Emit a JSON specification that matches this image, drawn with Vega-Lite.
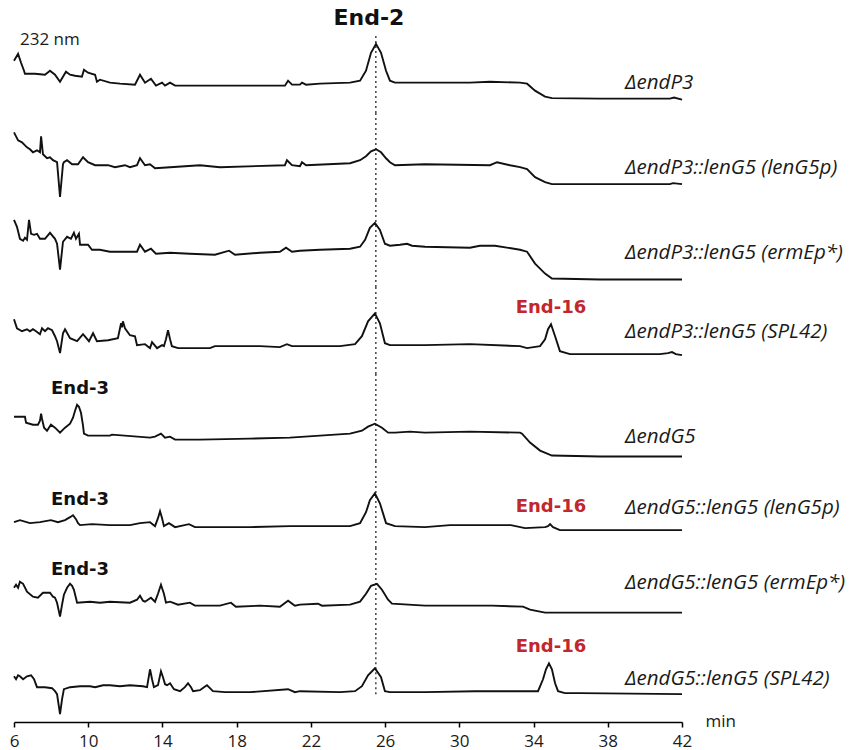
{
  "$schema": "https://vega.github.io/schema/vega-lite/v6.json",
  "padding": {"left": 9, "top": 7, "right": 5, "bottom": 2},
  "background": "white",
  "bounds": "flush",
  "config": {"view": {"stroke": null}},
  "data": {"values": [
    {"s":1,"t":6.00,"v":52.5},{"s":1,"t":6.22,"v":59.5},{"s":1,"t":6.38,"v":50.5},{"s":1,"t":6.54,"v":42.5},{"s":1,"t":6.59,"v":39.5},{"s":1,"t":7.13,"v":39.5},{"s":1,"t":7.67,"v":38.5},{"s":1,"t":7.94,"v":42.5},{"s":1,"t":8.21,"v":38.5},{"s":1,"t":8.48,"v":31.5},{"s":1,"t":8.80,"v":41.5},{"s":1,"t":9.02,"v":38.5},{"s":1,"t":9.29,"v":37.5},{"s":1,"t":9.66,"v":36.5},{"s":1,"t":9.77,"v":43.5},{"s":1,"t":9.99,"v":40.5},{"s":1,"t":10.37,"v":38.5},{"s":1,"t":10.47,"v":31.5},{"s":1,"t":10.63,"v":33.5},{"s":1,"t":11.17,"v":30.5},{"s":1,"t":11.71,"v":29.5},{"s":1,"t":12.52,"v":28.5},{"s":1,"t":12.79,"v":38.5},{"s":1,"t":13.06,"v":30.5},{"s":1,"t":13.38,"v":34.5},{"s":1,"t":13.65,"v":27.5},{"s":1,"t":13.98,"v":30.5},{"s":1,"t":14.14,"v":27.5},{"s":1,"t":14.41,"v":30.5},{"s":1,"t":14.68,"v":27.5},{"s":1,"t":16.02,"v":27.5},{"s":1,"t":18.72,"v":27.5},{"s":1,"t":20.60,"v":27.5},{"s":1,"t":20.77,"v":32.5},{"s":1,"t":20.98,"v":28.5},{"s":1,"t":21.41,"v":28.5},{"s":1,"t":21.52,"v":30.5},{"s":1,"t":21.74,"v":28.5},{"s":1,"t":22.49,"v":29.5},{"s":1,"t":24.11,"v":30.5},{"s":1,"t":24.65,"v":32.5},{"s":1,"t":24.97,"v":42.5},{"s":1,"t":25.24,"v":60.5},{"s":1,"t":25.51,"v":69.5},{"s":1,"t":25.78,"v":60.5},{"s":1,"t":26.05,"v":42.5},{"s":1,"t":26.26,"v":32.5},{"s":1,"t":26.53,"v":30.5},{"s":1,"t":28.15,"v":30.5},{"s":1,"t":30.57,"v":30.5},{"s":1,"t":31.65,"v":31.5},{"s":1,"t":33.27,"v":30.5},{"s":1,"t":33.65,"v":29.5},{"s":1,"t":34.08,"v":22.5},{"s":1,"t":34.62,"v":16.5},{"s":1,"t":34.99,"v":15},{"s":1,"t":37.58,"v":14.5},{"s":1,"t":41.35,"v":14.5},{"s":1,"t":41.57,"v":15.5},{"s":1,"t":42.00,"v":13.5},

    {"s":2,"t":6.00,"v":68},{"s":2,"t":6.22,"v":60},{"s":2,"t":6.43,"v":58},{"s":2,"t":6.70,"v":53},{"s":2,"t":6.86,"v":51},{"s":2,"t":7.02,"v":48},{"s":2,"t":7.24,"v":50},{"s":2,"t":7.40,"v":48},{"s":2,"t":7.46,"v":64},{"s":2,"t":7.56,"v":46},{"s":2,"t":7.78,"v":42},{"s":2,"t":7.94,"v":43},{"s":2,"t":8.10,"v":40},{"s":2,"t":8.32,"v":38},{"s":2,"t":8.48,"v":3},{"s":2,"t":8.64,"v":36},{"s":2,"t":8.69,"v":38},{"s":2,"t":8.86,"v":40},{"s":2,"t":9.13,"v":36},{"s":2,"t":9.45,"v":36},{"s":2,"t":9.72,"v":43},{"s":2,"t":9.99,"v":38},{"s":2,"t":10.37,"v":35},{"s":2,"t":11.07,"v":35},{"s":2,"t":11.44,"v":33},{"s":2,"t":11.98,"v":35},{"s":2,"t":12.25,"v":33},{"s":2,"t":12.63,"v":35},{"s":2,"t":12.79,"v":42},{"s":2,"t":13.06,"v":35},{"s":2,"t":13.33,"v":36},{"s":2,"t":13.60,"v":32},{"s":2,"t":14.41,"v":33},{"s":2,"t":16.02,"v":35},{"s":2,"t":17.10,"v":33},{"s":2,"t":20.60,"v":35},{"s":2,"t":20.71,"v":40},{"s":2,"t":20.98,"v":35},{"s":2,"t":21.41,"v":34},{"s":2,"t":21.52,"v":38},{"s":2,"t":21.74,"v":35},{"s":2,"t":24.11,"v":37},{"s":2,"t":24.65,"v":40},{"s":2,"t":24.97,"v":44},{"s":2,"t":25.24,"v":49},{"s":2,"t":25.51,"v":51},{"s":2,"t":25.78,"v":48},{"s":2,"t":26.05,"v":42},{"s":2,"t":26.26,"v":38},{"s":2,"t":26.53,"v":35},{"s":2,"t":28.15,"v":36},{"s":2,"t":31.65,"v":35},{"s":2,"t":32.03,"v":38},{"s":2,"t":32.73,"v":35},{"s":2,"t":33.27,"v":33},{"s":2,"t":33.65,"v":31},{"s":2,"t":34.08,"v":23},{"s":2,"t":34.62,"v":18},{"s":2,"t":34.99,"v":16},{"s":2,"t":41.35,"v":16},{"s":2,"t":41.51,"v":17},{"s":2,"t":42.00,"v":16},

    {"s":3,"t":6.00,"v":67.5},{"s":3,"t":6.16,"v":60.5},{"s":3,"t":6.32,"v":48.5},{"s":3,"t":6.49,"v":46.5},{"s":3,"t":6.59,"v":49.5},{"s":3,"t":6.70,"v":47.5},{"s":3,"t":6.81,"v":67.5},{"s":3,"t":6.92,"v":53.5},{"s":3,"t":7.08,"v":52.5},{"s":3,"t":7.24,"v":53.5},{"s":3,"t":7.40,"v":48.5},{"s":3,"t":7.67,"v":48.5},{"s":3,"t":7.94,"v":54.5},{"s":3,"t":8.21,"v":48.5},{"s":3,"t":8.32,"v":43.5},{"s":3,"t":8.48,"v":17.5},{"s":3,"t":8.64,"v":45.5},{"s":3,"t":8.86,"v":50.5},{"s":3,"t":9.07,"v":48.5},{"s":3,"t":9.23,"v":54.5},{"s":3,"t":9.34,"v":48.5},{"s":3,"t":9.50,"v":53.5},{"s":3,"t":9.56,"v":42.5},{"s":3,"t":9.99,"v":42.5},{"s":3,"t":10.20,"v":37.5},{"s":3,"t":10.63,"v":37.5},{"s":3,"t":11.17,"v":35.5},{"s":3,"t":12.25,"v":35.5},{"s":3,"t":12.63,"v":35.5},{"s":3,"t":12.79,"v":42.5},{"s":3,"t":13.06,"v":35.5},{"s":3,"t":13.38,"v":38.5},{"s":3,"t":13.65,"v":33.5},{"s":3,"t":14.41,"v":34.5},{"s":3,"t":15.48,"v":33.5},{"s":3,"t":16.83,"v":32.5},{"s":3,"t":17.59,"v":36.5},{"s":3,"t":17.91,"v":32.5},{"s":3,"t":19.26,"v":34.5},{"s":3,"t":20.33,"v":35.5},{"s":3,"t":20.66,"v":39.5},{"s":3,"t":20.98,"v":35.5},{"s":3,"t":21.41,"v":36.5},{"s":3,"t":22.49,"v":37.5},{"s":3,"t":24.11,"v":38.5},{"s":3,"t":24.65,"v":40.5},{"s":3,"t":24.92,"v":47.5},{"s":3,"t":25.18,"v":59.5},{"s":3,"t":25.45,"v":64.5},{"s":3,"t":25.72,"v":57.5},{"s":3,"t":25.99,"v":43.5},{"s":3,"t":26.26,"v":41.5},{"s":3,"t":26.80,"v":42.5},{"s":3,"t":27.18,"v":43.5},{"s":3,"t":27.45,"v":41.5},{"s":3,"t":28.15,"v":40.5},{"s":3,"t":30.57,"v":39.5},{"s":3,"t":31.11,"v":41.5},{"s":3,"t":31.92,"v":41.5},{"s":3,"t":33.27,"v":37.5},{"s":3,"t":33.65,"v":35.5},{"s":3,"t":34.08,"v":23.5},{"s":3,"t":34.62,"v":13.5},{"s":3,"t":34.99,"v":8.5},{"s":3,"t":37.58,"v":7.5},{"s":3,"t":42.00,"v":7.5},

    {"s":4,"t":6.00,"v":55},{"s":4,"t":6.16,"v":46},{"s":4,"t":6.43,"v":43},{"s":4,"t":6.70,"v":45},{"s":4,"t":6.86,"v":43},{"s":4,"t":7.02,"v":45},{"s":4,"t":7.19,"v":43},{"s":4,"t":7.40,"v":40},{"s":4,"t":7.51,"v":46},{"s":4,"t":7.67,"v":43},{"s":4,"t":7.83,"v":46},{"s":4,"t":8.05,"v":44},{"s":4,"t":8.21,"v":38},{"s":4,"t":8.32,"v":33},{"s":4,"t":8.48,"v":21},{"s":4,"t":8.64,"v":41},{"s":4,"t":8.75,"v":45},{"s":4,"t":9.02,"v":36},{"s":4,"t":9.40,"v":33},{"s":4,"t":9.72,"v":40},{"s":4,"t":10.04,"v":33},{"s":4,"t":10.26,"v":41},{"s":4,"t":10.47,"v":33},{"s":4,"t":11.07,"v":34},{"s":4,"t":11.60,"v":36},{"s":4,"t":11.77,"v":51},{"s":4,"t":11.82,"v":47},{"s":4,"t":11.87,"v":53},{"s":4,"t":11.98,"v":46},{"s":4,"t":12.25,"v":39},{"s":4,"t":12.52,"v":38},{"s":4,"t":12.63,"v":29},{"s":4,"t":13.06,"v":30},{"s":4,"t":13.33,"v":26},{"s":4,"t":13.44,"v":32},{"s":4,"t":13.71,"v":26},{"s":4,"t":13.98,"v":29},{"s":4,"t":14.08,"v":28},{"s":4,"t":14.19,"v":35},{"s":4,"t":14.30,"v":44},{"s":4,"t":14.41,"v":35},{"s":4,"t":14.51,"v":28},{"s":4,"t":14.84,"v":26},{"s":4,"t":15.48,"v":26},{"s":4,"t":16.56,"v":26},{"s":4,"t":16.83,"v":28},{"s":4,"t":19.26,"v":28},{"s":4,"t":20.33,"v":27},{"s":4,"t":20.71,"v":30},{"s":4,"t":20.98,"v":28},{"s":4,"t":21.41,"v":28},{"s":4,"t":23.57,"v":28},{"s":4,"t":24.38,"v":30},{"s":4,"t":24.75,"v":38},{"s":4,"t":25.08,"v":53},{"s":4,"t":25.45,"v":61},{"s":4,"t":25.72,"v":51},{"s":4,"t":25.99,"v":31},{"s":4,"t":26.26,"v":29},{"s":4,"t":28.15,"v":29},{"s":4,"t":30.57,"v":30},{"s":4,"t":33.27,"v":28},{"s":4,"t":33.65,"v":26},{"s":4,"t":34.35,"v":28},{"s":4,"t":34.62,"v":35},{"s":4,"t":34.78,"v":45},{"s":4,"t":34.94,"v":50},{"s":4,"t":35.16,"v":38},{"s":4,"t":35.42,"v":23},{"s":4,"t":35.96,"v":20},{"s":4,"t":38.66,"v":20},{"s":4,"t":40.81,"v":20},{"s":4,"t":41.24,"v":21},{"s":4,"t":41.46,"v":22},{"s":4,"t":41.67,"v":20},{"s":4,"t":42.00,"v":19},

    {"s":5,"t":6.00,"v":44.5},{"s":5,"t":6.59,"v":44.5},{"s":5,"t":6.65,"v":38.5},{"s":5,"t":7.02,"v":36.5},{"s":5,"t":7.29,"v":36.5},{"s":5,"t":7.40,"v":40.5},{"s":5,"t":7.46,"v":47.5},{"s":5,"t":7.51,"v":42.5},{"s":5,"t":7.62,"v":33.5},{"s":5,"t":7.78,"v":30.5},{"s":5,"t":7.99,"v":36.5},{"s":5,"t":8.21,"v":33.5},{"s":5,"t":8.48,"v":28.5},{"s":5,"t":8.75,"v":33.5},{"s":5,"t":9.02,"v":37.5},{"s":5,"t":9.18,"v":43.5},{"s":5,"t":9.29,"v":50.5},{"s":5,"t":9.40,"v":56.5},{"s":5,"t":9.50,"v":54.5},{"s":5,"t":9.61,"v":48.5},{"s":5,"t":9.72,"v":35.5},{"s":5,"t":9.77,"v":27.5},{"s":5,"t":9.99,"v":25.5},{"s":5,"t":11.17,"v":25.5},{"s":5,"t":11.28,"v":26.5},{"s":5,"t":13.33,"v":23.5},{"s":5,"t":13.60,"v":24.5},{"s":5,"t":13.92,"v":27.5},{"s":5,"t":14.14,"v":23.5},{"s":5,"t":14.41,"v":24.5},{"s":5,"t":14.68,"v":21.5},{"s":5,"t":16.02,"v":21.5},{"s":5,"t":18.72,"v":22.5},{"s":5,"t":20.87,"v":23.5},{"s":5,"t":24.11,"v":27.5},{"s":5,"t":24.75,"v":30.5},{"s":5,"t":25.08,"v":34.5},{"s":5,"t":25.45,"v":37.5},{"s":5,"t":25.83,"v":33.5},{"s":5,"t":26.16,"v":28.5},{"s":5,"t":26.53,"v":28.5},{"s":5,"t":27.34,"v":29.5},{"s":5,"t":28.15,"v":28.5},{"s":5,"t":30.57,"v":29.5},{"s":5,"t":33.27,"v":28.5},{"s":5,"t":33.38,"v":27.5},{"s":5,"t":33.81,"v":18.5},{"s":5,"t":34.35,"v":10.5},{"s":5,"t":34.99,"v":5.5},{"s":5,"t":37.58,"v":4.5},{"s":5,"t":42.00,"v":4.5},

    {"s":6,"t":6.00,"v":26},{"s":6,"t":6.32,"v":28},{"s":6,"t":6.86,"v":25},{"s":6,"t":7.40,"v":26},{"s":6,"t":7.99,"v":28},{"s":6,"t":8.37,"v":26},{"s":6,"t":8.75,"v":28},{"s":6,"t":9.02,"v":31},{"s":6,"t":9.18,"v":33},{"s":6,"t":9.34,"v":29},{"s":6,"t":9.45,"v":25},{"s":6,"t":9.56,"v":23},{"s":6,"t":10.20,"v":24},{"s":6,"t":11.17,"v":23},{"s":6,"t":12.25,"v":23},{"s":6,"t":12.79,"v":25},{"s":6,"t":13.33,"v":26},{"s":6,"t":13.60,"v":22},{"s":6,"t":13.76,"v":30},{"s":6,"t":13.87,"v":37},{"s":6,"t":13.98,"v":30},{"s":6,"t":14.08,"v":22},{"s":6,"t":14.35,"v":25},{"s":6,"t":14.68,"v":21},{"s":6,"t":15.43,"v":24},{"s":6,"t":15.75,"v":21},{"s":6,"t":18.72,"v":21},{"s":6,"t":20.87,"v":22},{"s":6,"t":24.11,"v":22},{"s":6,"t":24.65,"v":25},{"s":6,"t":24.97,"v":36},{"s":6,"t":25.18,"v":48},{"s":6,"t":25.45,"v":55},{"s":6,"t":25.72,"v":45},{"s":6,"t":26.05,"v":25},{"s":6,"t":26.53,"v":22},{"s":6,"t":28.15,"v":21},{"s":6,"t":29.50,"v":23},{"s":6,"t":30.57,"v":23},{"s":6,"t":32.78,"v":23},{"s":6,"t":33.54,"v":20},{"s":6,"t":34.62,"v":21},{"s":6,"t":34.78,"v":22},{"s":6,"t":34.89,"v":24},{"s":6,"t":35.05,"v":21},{"s":6,"t":35.42,"v":18},{"s":6,"t":42.00,"v":18},

    {"s":7,"t":6.00,"v":47.5},{"s":7,"t":6.11,"v":50.5},{"s":7,"t":6.22,"v":47.5},{"s":7,"t":6.32,"v":53.5},{"s":7,"t":6.49,"v":51.5},{"s":7,"t":6.70,"v":43.5},{"s":7,"t":7.02,"v":38.5},{"s":7,"t":7.29,"v":37.5},{"s":7,"t":7.56,"v":42.5},{"s":7,"t":7.94,"v":42.5},{"s":7,"t":8.10,"v":38.5},{"s":7,"t":8.21,"v":37.5},{"s":7,"t":8.32,"v":32.5},{"s":7,"t":8.48,"v":18.5},{"s":7,"t":8.59,"v":30.5},{"s":7,"t":8.69,"v":40.5},{"s":7,"t":8.86,"v":47.5},{"s":7,"t":9.02,"v":51.5},{"s":7,"t":9.13,"v":49.5},{"s":7,"t":9.23,"v":45.5},{"s":7,"t":9.40,"v":32.5},{"s":7,"t":10.10,"v":33.5},{"s":7,"t":10.63,"v":32.5},{"s":7,"t":11.17,"v":33.5},{"s":7,"t":12.25,"v":32.5},{"s":7,"t":12.63,"v":35.5},{"s":7,"t":12.79,"v":39.5},{"s":7,"t":12.95,"v":34.5},{"s":7,"t":13.06,"v":33.5},{"s":7,"t":13.38,"v":37.5},{"s":7,"t":13.60,"v":33.5},{"s":7,"t":13.76,"v":41.5},{"s":7,"t":13.92,"v":50.5},{"s":7,"t":14.08,"v":41.5},{"s":7,"t":14.19,"v":32.5},{"s":7,"t":14.41,"v":33.5},{"s":7,"t":14.84,"v":30.5},{"s":7,"t":15.48,"v":32.5},{"s":7,"t":15.75,"v":29.5},{"s":7,"t":17.10,"v":29.5},{"s":7,"t":17.69,"v":32.5},{"s":7,"t":17.96,"v":28.5},{"s":7,"t":19.26,"v":29.5},{"s":7,"t":20.33,"v":28.5},{"s":7,"t":20.77,"v":34.5},{"s":7,"t":21.14,"v":29.5},{"s":7,"t":21.41,"v":30.5},{"s":7,"t":22.38,"v":31.5},{"s":7,"t":22.60,"v":29.5},{"s":7,"t":24.11,"v":30.5},{"s":7,"t":24.65,"v":33.5},{"s":7,"t":24.97,"v":41.5},{"s":7,"t":25.24,"v":49.5},{"s":7,"t":25.56,"v":51.5},{"s":7,"t":25.83,"v":45.5},{"s":7,"t":26.16,"v":35.5},{"s":7,"t":26.37,"v":31.5},{"s":7,"t":28.15,"v":29.5},{"s":7,"t":31.76,"v":29.5},{"s":7,"t":33.43,"v":28.5},{"s":7,"t":33.81,"v":25.5},{"s":7,"t":34.35,"v":23.5},{"s":7,"t":34.62,"v":22.5},{"s":7,"t":42.00,"v":22.5},

    {"s":8,"t":6.00,"v":46},{"s":8,"t":6.11,"v":43},{"s":8,"t":6.22,"v":47},{"s":8,"t":6.32,"v":46},{"s":8,"t":6.49,"v":43},{"s":8,"t":6.70,"v":46},{"s":8,"t":6.92,"v":47},{"s":8,"t":7.08,"v":43},{"s":8,"t":7.24,"v":35},{"s":8,"t":7.67,"v":35},{"s":8,"t":8.05,"v":34},{"s":8,"t":8.21,"v":31},{"s":8,"t":8.32,"v":28},{"s":8,"t":8.48,"v":8},{"s":8,"t":8.59,"v":23},{"s":8,"t":8.69,"v":33},{"s":8,"t":9.02,"v":35},{"s":8,"t":9.56,"v":36},{"s":8,"t":10.10,"v":36},{"s":8,"t":10.37,"v":35},{"s":8,"t":10.80,"v":37},{"s":8,"t":11.17,"v":37},{"s":8,"t":11.71,"v":36},{"s":8,"t":12.25,"v":37},{"s":8,"t":12.95,"v":36},{"s":8,"t":13.17,"v":35},{"s":8,"t":13.33,"v":53},{"s":8,"t":13.44,"v":43},{"s":8,"t":13.54,"v":35},{"s":8,"t":13.76,"v":37},{"s":8,"t":13.92,"v":51},{"s":8,"t":14.03,"v":45},{"s":8,"t":14.14,"v":38},{"s":8,"t":14.25,"v":37},{"s":8,"t":14.41,"v":39},{"s":8,"t":14.62,"v":33},{"s":8,"t":14.95,"v":31},{"s":8,"t":15.21,"v":35},{"s":8,"t":15.38,"v":39},{"s":8,"t":15.54,"v":35},{"s":8,"t":15.65,"v":31},{"s":8,"t":16.02,"v":32},{"s":8,"t":16.24,"v":35},{"s":8,"t":16.40,"v":37},{"s":8,"t":16.56,"v":34},{"s":8,"t":16.72,"v":31},{"s":8,"t":17.37,"v":30},{"s":8,"t":18.72,"v":30},{"s":8,"t":20.77,"v":33},{"s":8,"t":21.14,"v":30},{"s":8,"t":21.41,"v":31},{"s":8,"t":23.57,"v":30},{"s":8,"t":24.38,"v":31},{"s":8,"t":24.75,"v":36},{"s":8,"t":25.08,"v":47},{"s":8,"t":25.45,"v":54},{"s":8,"t":25.78,"v":45},{"s":8,"t":25.99,"v":31},{"s":8,"t":26.26,"v":30},{"s":8,"t":28.15,"v":30},{"s":8,"t":30.84,"v":31},{"s":8,"t":33.27,"v":31},{"s":8,"t":34.24,"v":31},{"s":8,"t":34.51,"v":43},{"s":8,"t":34.67,"v":53},{"s":8,"t":34.83,"v":59},{"s":8,"t":34.99,"v":53},{"s":8,"t":35.16,"v":39},{"s":8,"t":35.32,"v":31},{"s":8,"t":35.69,"v":29},{"s":8,"t":36.50,"v":29},{"s":8,"t":42.00,"v":28},

    {"k":"rule","s":1,"t":25.5,"lo":0,"hi":77.5},{"k":"rule","s":2,"t":25.5,"lo":0,"hi":87.5},{"k":"rule","s":3,"t":25.5,"lo":0,"hi":87.5},{"k":"rule","s":4,"t":25.5,"lo":0,"hi":87.5},{"k":"rule","s":5,"t":25.5,"lo":0,"hi":87.5},{"k":"rule","s":6,"t":25.5,"lo":0,"hi":87.5},{"k":"rule","s":7,"t":25.5,"lo":0,"hi":87.5},{"k":"rule","s":8,"t":25.5,"lo":28,"hi":87.5},

    {"k":"lab","s":1,"t":38.93,"v":24.5,"txt":"ΔendP3"},
    {"k":"lab","s":2,"t":38.93,"v":26,"txt":"ΔendP3::lenG5 (lenG5p)"},
    {"k":"lab","s":3,"t":38.93,"v":28.5,"txt":"ΔendP3::lenG5 (ermEp*)"},
    {"k":"lab","s":4,"t":38.93,"v":36,"txt":"ΔendP3::lenG5 (SPL42)"},
    {"k":"lab","s":5,"t":38.93,"v":18.5,"txt":"ΔendG5"},
    {"k":"lab","s":6,"t":38.93,"v":34,"txt":"ΔendG5::lenG5 (lenG5p)"},
    {"k":"lab","s":7,"t":38.93,"v":46.5,"txt":"ΔendG5::lenG5 (ermEp*)"},
    {"k":"lab","s":8,"t":38.93,"v":37,"txt":"ΔendG5::lenG5 (SPL42)"},

    {"k":"nm","s":1,"t":6.32,"v":68.5,"txt":"232 nm"},
    {"k":"big","s":1,"t":25.13,"v":88.5,"txt":"End-2"},
    {"k":"ann","s":5,"t":9.56,"v":67.5,"txt":"End-3"},
    {"k":"ann","s":6,"t":9.56,"v":43,"txt":"End-3"},
    {"k":"ann","s":7,"t":9.56,"v":60.5,"txt":"End-3"},
    {"k":"red","s":4,"t":34.94,"v":61,"txt":"End-16"},
    {"k":"red","s":6,"t":34.94,"v":36,"txt":"End-16"},
    {"k":"red","s":8,"t":34.94,"v":70,"txt":"End-16"}
  ]},
  "facet": {"row": {"field": "s", "type": "ordinal", "header": null}},
  "spacing": {"row": 0},
  "spec": {
    "width": 668,
    "height": 87,
    "encoding": {
      "x": {"field": "t", "type": "quantitative",
        "scale": {"domain": [6, 42], "nice": false, "zero": false},
        "axis": {"values": [6,10,14,18,22,26,30,34,38,42], "grid": false,
          "title": "min", "titleX": 691, "titleY": -1, "titleAlign": "left", "titleBaseline": "middle",
          "titleFont": "Open Sans", "titleFontSize": 17, "titleFontWeight": "normal", "titleColor": "#1a1a1a",
          "labelFont": "Open Sans", "labelFontSize": 17, "labelColor": "#1a1a1a", "labelPadding": 6, "labelFlush": false,
          "domainColor": "#000", "domainWidth": 1.5, "tickColor": "#000", "tickWidth": 1.5, "tickSize": 5}}
    },
    "layer": [
      {"transform": [{"filter": "datum.k == 'rule'"}],
       "mark": {"type": "rule", "color": "#444", "strokeWidth": 1.5, "strokeDash": [2, 3]},
       "encoding": {"y": {"field": "lo", "type": "quantitative", "scale": {"domain": [0, 87.5], "nice": false, "zero": false}, "axis": null}, "y2": {"field": "hi"}}},
      {"transform": [{"filter": "!datum.k"}],
       "mark": {"type": "line", "color": "#111", "strokeWidth": 1.9, "interpolate": "linear"},
       "encoding": {"y": {"field": "v", "type": "quantitative", "scale": {"domain": [0, 87.5], "nice": false, "zero": false}, "axis": null}}},
      {"transform": [{"filter": "datum.k == 'lab'"}],
       "mark": {"type": "text", "align": "left", "baseline": "alphabetic", "font": "Open Sans", "fontStyle": "italic", "fontSize": 20.5, "color": "#1a1a1a"},
       "encoding": {"y": {"field": "v", "type": "quantitative"}, "text": {"field": "txt"}}},
      {"transform": [{"filter": "datum.k == 'nm'"}],
       "mark": {"type": "text", "align": "left", "baseline": "alphabetic", "font": "Open Sans", "fontSize": 17, "color": "#1a1a1a"},
       "encoding": {"y": {"field": "v", "type": "quantitative"}, "text": {"field": "txt"}}},
      {"transform": [{"filter": "datum.k == 'big'"}],
       "mark": {"type": "text", "align": "center", "baseline": "alphabetic", "font": "DejaVu Sans", "fontWeight": "bold", "fontSize": 22, "color": "#111"},
       "encoding": {"y": {"field": "v", "type": "quantitative"}, "text": {"field": "txt"}}},
      {"transform": [{"filter": "datum.k == 'ann'"}],
       "mark": {"type": "text", "align": "center", "baseline": "alphabetic", "font": "DejaVu Sans", "fontWeight": "bold", "fontSize": 18, "color": "#111"},
       "encoding": {"y": {"field": "v", "type": "quantitative"}, "text": {"field": "txt"}}},
      {"transform": [{"filter": "datum.k == 'red'"}],
       "mark": {"type": "text", "align": "center", "baseline": "alphabetic", "font": "DejaVu Sans", "fontWeight": "bold", "fontSize": 18, "color": "#c1272d"},
       "encoding": {"y": {"field": "v", "type": "quantitative"}, "text": {"field": "txt"}}}
    ]
  }
}
